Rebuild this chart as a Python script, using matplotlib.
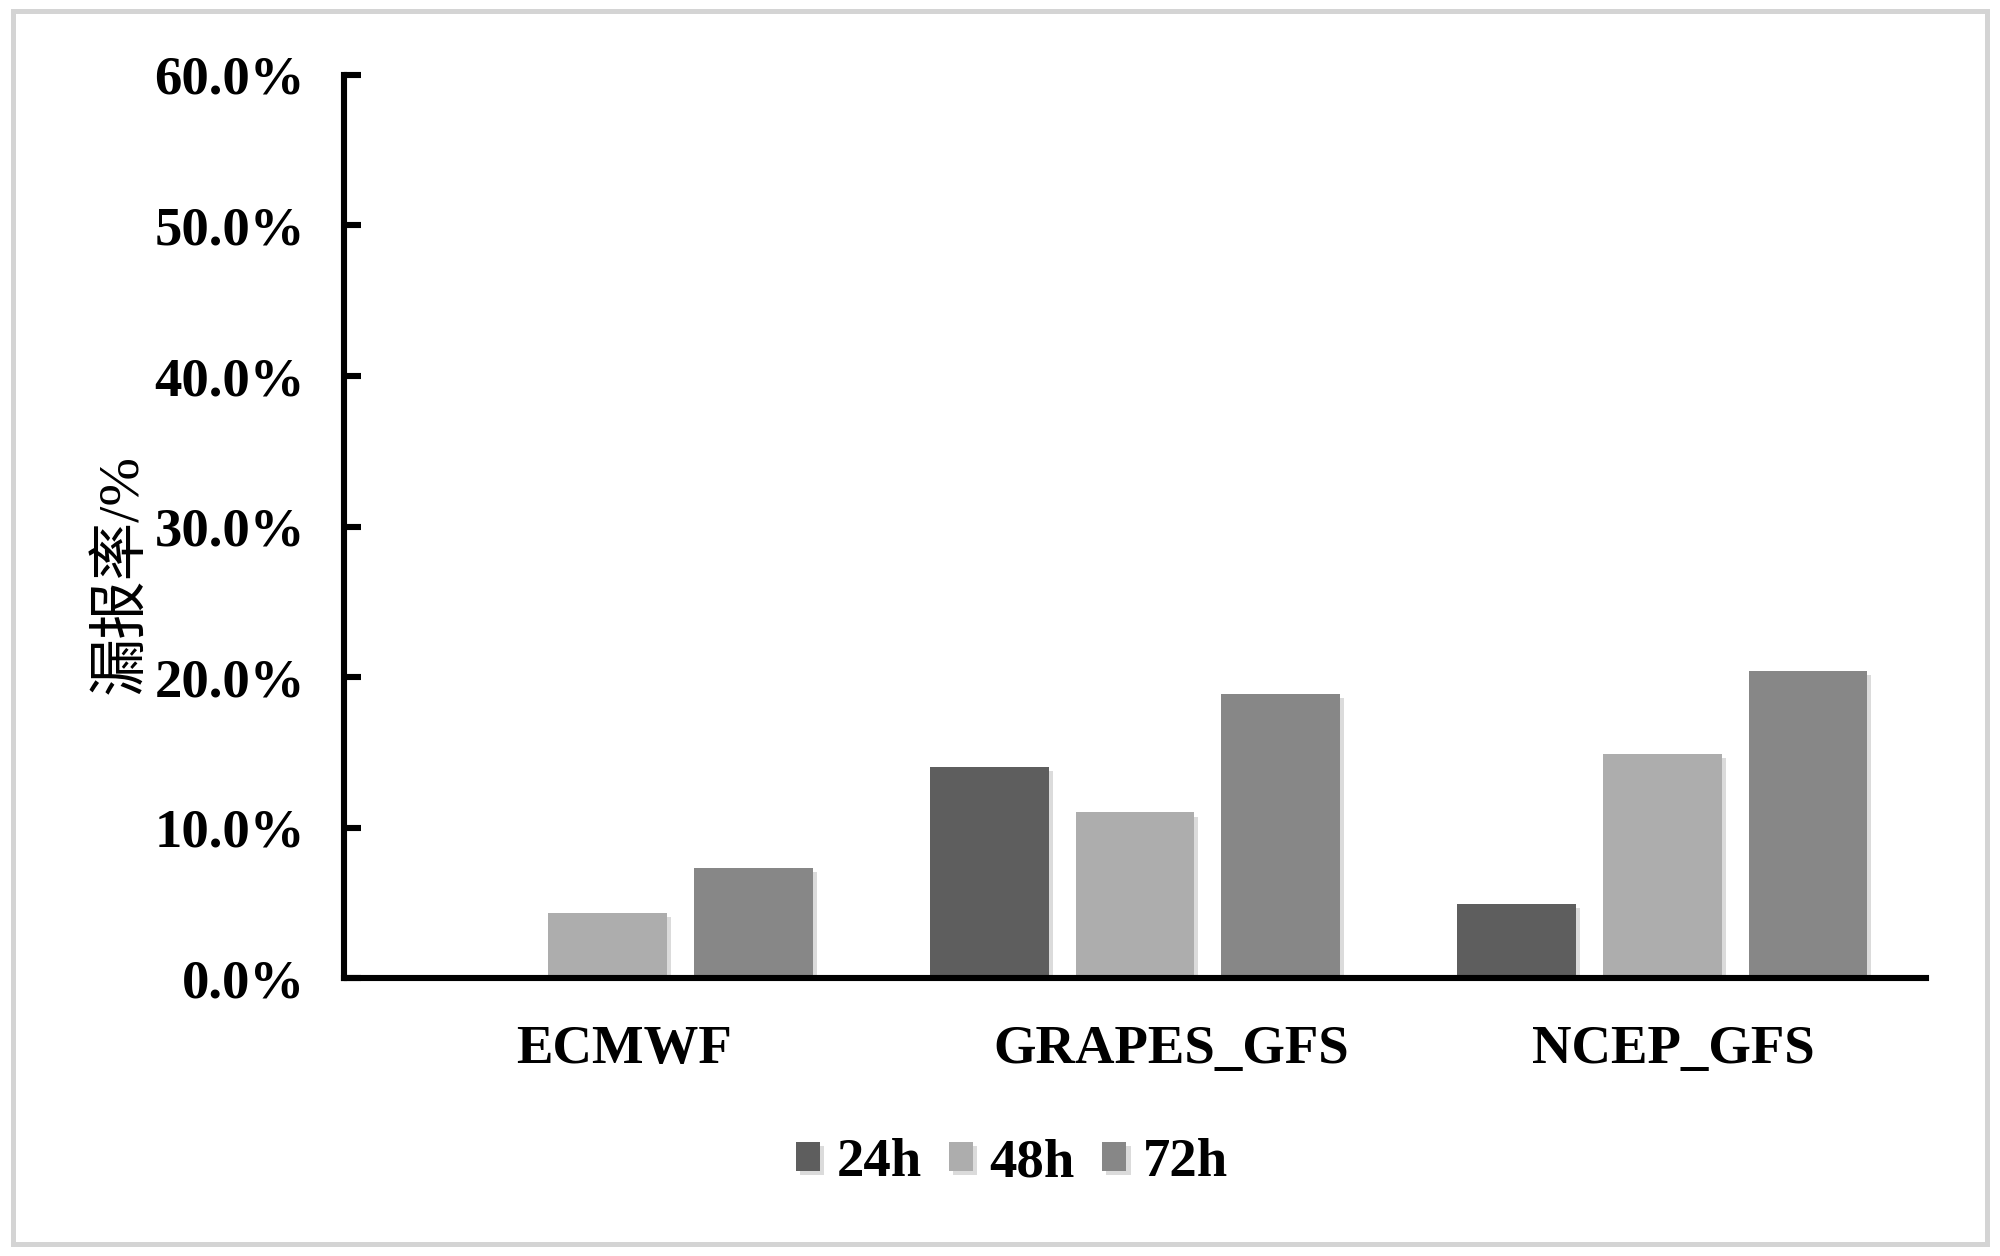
import matplotlib
matplotlib.use("Agg")
import matplotlib.pyplot as plt
import matplotlib.patheffects as pe
from matplotlib.patches import Rectangle
import numpy as np

categories = ["ECMWF", "GRAPES_GFS", "NCEP_GFS"]
series_names = ["24h", "48h", "72h"]
vals_24h = [0.0, 14.0, 4.9]
vals_48h = [4.3, 11.0, 14.9]
vals_72h = [7.3, 18.9, 20.4]
yticks = [0, 10, 20, 30, 40, 50, 60]
ytick_labels = ["0.0%", "10.0%", "20.0%", "30.0%", "40.0%", "50.0%", "60.0%"]
ylabel = "漏报率/%"

colors = ["#5e5e5e", "#adadad", "#878787"]
serif = "Liberation Serif"
fs = 19.7

fig = plt.figure(figsize=(10, 6.28), dpi=200)
ax = fig.add_axes([0.172, 0.2213, 0.963 - 0.172, 0.9403 - 0.2213])

x = np.arange(len(categories))
width = 0.225
step = 0.276
for i, (vals, name) in enumerate(zip([vals_24h, vals_48h, vals_72h], series_names)):
    bars = ax.bar(x + (i - 1) * step, vals, width, color=colors[i], label=name,
                  edgecolor="none", zorder=2)
    for b in bars:
        b.set_path_effects([pe.SimplePatchShadow(offset=(1.5, -1.5), shadow_rgbFace="#999999", alpha=0.35), pe.Normal()])

ax.set_xlim(-0.5, 2.5)
ax.set_ylim(0, 60)
ax.set_yticks(yticks)
ax.set_yticklabels(ytick_labels, fontfamily=serif, fontweight="bold", fontsize=fs)
ax.set_xticks(x)
ax.set_xticklabels([])

# category labels (slightly right of the tick centre, as in the original)
label_dx = [6, 13, 4]  # points
for xi, cat, dx in zip(x, categories, label_dx):
    ax.annotate(cat, xy=(xi, 0), xycoords=("data", "axes fraction"),
                xytext=(dx, -17), textcoords="offset points",
                ha="center", va="top", fontfamily=serif, fontweight="bold", fontsize=fs)

for s in ["top", "right"]:
    ax.spines[s].set_visible(False)
for s in ["left", "bottom"]:
    ax.spines[s].set_linewidth(2.2)
    ax.spines[s].set_color("black")
    ax.spines[s].set_zorder(3)

ax.tick_params(axis="y", direction="in", length=6, width=2.2, pad=14)
ax.tick_params(axis="x", length=0)

fig.text(0.0605, 0.543, ylabel, rotation=90, ha="center", va="center",
         fontsize=21, family=[serif, "Noto Sans CJK SC"])

fig.legend(loc="center", bbox_to_anchor=(0.506, 0.074), ncol=3, frameon=False,
           prop={"family": serif, "weight": "bold", "size": fs},
           handlelength=0.44, handleheight=0.44, handletextpad=0.3,
           columnspacing=0.5)

# outer light-gray frame
fig.patches.append(Rectangle((0.0065, 0.0095), 0.987, 0.982, transform=fig.transFigure,
                             fill=False, edgecolor="#d4d4d4", linewidth=1.8))

fig.savefig("out.png", dpi=200, facecolor="white")
